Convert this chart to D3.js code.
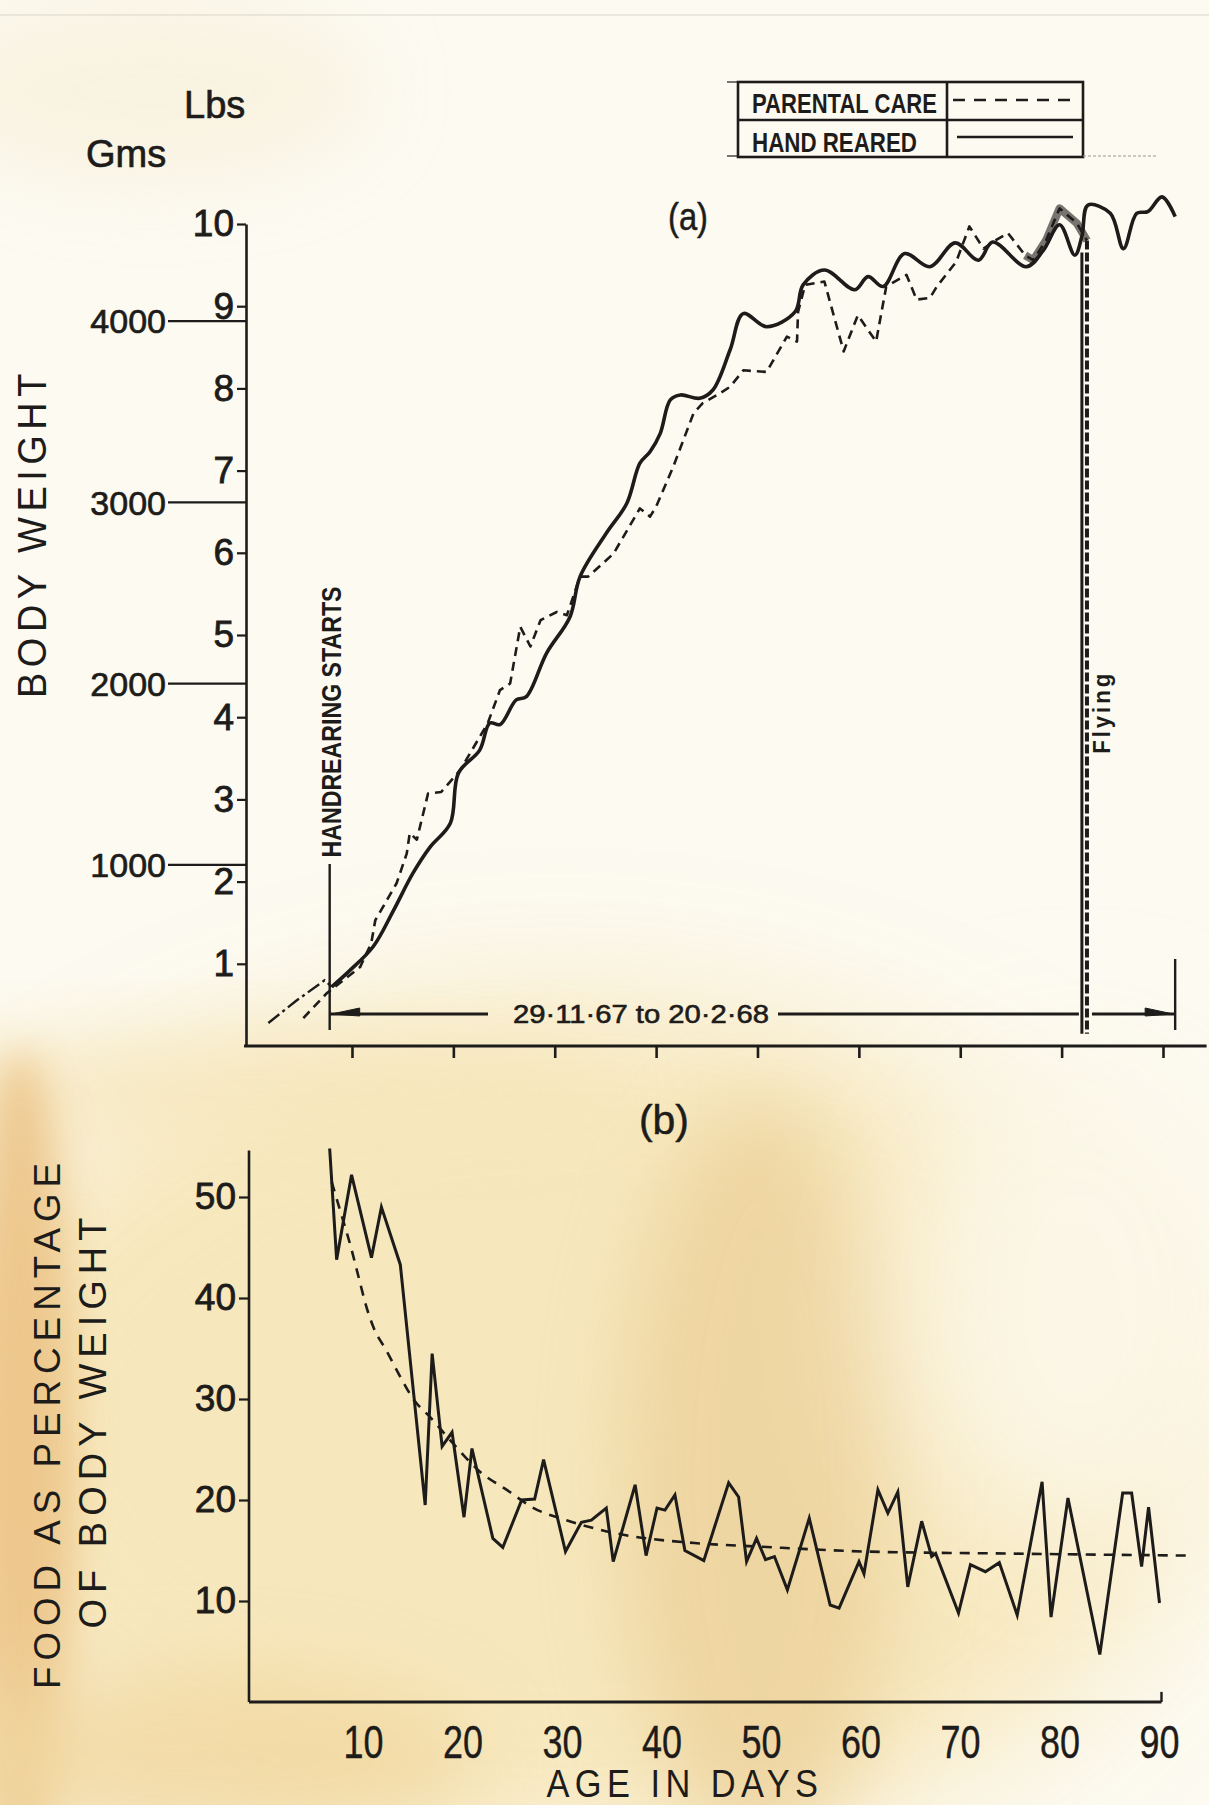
<!DOCTYPE html>
<html>
<head>
<meta charset="utf-8">
<script src="https://cdn.jsdelivr.net/npm/d3@7"></script>
<style>
  html, body { margin: 0; padding: 0; background: #fcfaf1; }
  svg { display: block; }
</style>
</head>
<body>
<svg id="chart" width="1209" height="1805"></svg>
<script>
// ---------- Panel (a): body weight (lbs) against age in days ----------
// hand-reared chick before hand-rearing began (estimated, dash-dot)
const handRearedEarly = [[1.75, 0.28], [4.5, 0.55], [7.3, 0.80], [8.0, 0.72]];
const handReared = [
  [8.0, 0.72], [9.8, 0.92], [12.1, 1.21], [14.1, 1.65], [16.0, 2.10], [17.7, 2.42],
  [19.7, 2.71], [20.5, 3.32], [22.6, 3.60], [23.6, 3.93], [24.6, 3.91], [26.2, 4.21],
  [27.2, 4.25], [29.2, 4.78], [31.5, 5.22], [32.5, 5.71], [35.1, 6.24], [37.1, 6.60],
  [38.4, 7.09], [39.4, 7.23], [40.4, 7.45], [41.4, 7.86], [42.4, 7.92], [44.3, 7.88],
  [45.6, 7.98], [47.3, 8.47], [48.6, 8.91], [50.9, 8.75], [53.7, 8.93], [54.5, 9.26],
  [56.6, 9.44], [59.6, 9.20], [60.9, 9.36], [62.4, 9.24], [64.5, 9.64], [67.0, 9.48],
  [69.5, 9.77], [71.8, 9.56], [73.2, 9.78], [76.5, 9.48], [78.2, 9.68], [79.8, 9.99],
  [81.3, 9.62], [82.0, 9.85], [82.6, 10.23], [84.8, 10.13], [86.1, 9.70], [87.4, 10.13],
  [88.5, 10.15], [89.9, 10.33], [91.2, 10.09]
];
const parentalCare = [
  [5.2, 0.34], [7.5, 0.64], [10.8, 0.96], [11.9, 1.25], [12.3, 1.53], [14.4, 1.98],
  [15.4, 2.34], [15.7, 2.59], [16.4, 2.51], [17.5, 3.07], [18.8, 3.09], [20.7, 3.36],
  [23.4, 3.93], [24.6, 4.33], [25.6, 4.41], [26.6, 5.10], [27.6, 4.86], [28.6, 5.18],
  [30.2, 5.28], [31.2, 5.24], [32.5, 5.71], [33.3, 5.71], [35.8, 5.99], [38.4, 6.54],
  [39.4, 6.44], [40.0, 6.56], [41.7, 7.05], [43.7, 7.70], [44.6, 7.82], [46.3, 7.94],
  [47.3, 8.02], [48.6, 8.22], [50.9, 8.20], [52.9, 8.63], [53.9, 8.57], [54.0, 8.93],
  [54.7, 9.26], [56.6, 9.30], [58.5, 8.45], [59.9, 8.89], [61.7, 8.57], [62.7, 9.24],
  [64.7, 9.38], [65.7, 9.08], [67.0, 9.10], [67.7, 9.24], [69.6, 9.54], [70.9, 9.97],
  [72.3, 9.70], [73.6, 9.81], [74.7, 9.89], [76.4, 9.62], [77.2, 9.56], [78.5, 9.81],
  [79.8, 10.19], [81.5, 10.01], [82.5, 9.80]
];
const weightTicksLbs = [1, 2, 3, 4, 5, 6, 7, 8, 9, 10];
const weightTicksGms = [1000, 2000, 3000, 4000];
const ageTicksA = [10, 20, 30, 40, 50, 60, 70, 80, 90];
const handRearingStartDay = 7.8;
const flyingDayHand = 82.0;
const flyingDayParent = 82.5;
const lastRecordDay = 91.2;
const dateSpanLabel = "29·11·67  to  20·2·68";

// ---------- Panel (b): food as % of body weight ----------
const foodHandReared = [
  [6.6, 54.8], [7.3, 43.8], [8.8, 52.2], [10.8, 44.0], [11.8, 49.0], [13.7, 43.3],
  [16.2, 19.5], [16.9, 34.5], [17.9, 25.3], [18.9, 26.7], [20.1, 18.3], [20.9, 25.1],
  [23.0, 16.2], [24.0, 15.3], [25.9, 20.0], [27.2, 20.1], [28.1, 24.0], [30.3, 14.9],
  [31.9, 17.8], [32.9, 18.0], [34.4, 19.2], [35.1, 13.9], [37.3, 21.5], [38.4, 14.5],
  [39.5, 19.2], [40.3, 19.0], [41.3, 20.5], [42.3, 15.0], [44.2, 14.0], [46.7, 21.7],
  [47.7, 20.3], [48.5, 13.9], [49.5, 16.2], [50.4, 14.1], [51.3, 14.4], [52.6, 11.1],
  [54.8, 18.2], [56.9, 9.6], [57.8, 9.3], [59.8, 13.9], [60.3, 12.7], [61.7, 21.0],
  [62.7, 18.7], [63.7, 20.8], [64.7, 11.4], [66.1, 17.9], [67.1, 14.4], [67.5, 14.7],
  [69.8, 8.8], [71.0, 13.6], [72.5, 12.9], [73.9, 13.8], [75.7, 8.6], [78.2, 21.8],
  [79.1, 8.4], [80.8, 20.2], [84.0, 4.7], [86.3, 20.7], [87.2, 20.7], [88.2, 13.4],
  [88.9, 19.3], [90.0, 9.8]
];
const foodTrend = [
  [6.8, 51.5], [7.7, 48.5], [8.8, 44.8], [9.5, 42.1], [10.3, 39.1], [11.0, 37.1],
  [12.3, 34.8], [13.7, 32.2], [15.0, 30.0], [16.7, 28.2], [19.0, 25.6], [21.7, 22.8],
  [24.4, 21.0], [27.1, 19.2], [30.4, 18.0], [35.4, 16.7], [43.8, 15.7], [49.5, 15.4],
  [60.3, 14.9], [74.6, 14.7], [92.7, 14.5]
];
const foodTicks = [10, 20, 30, 40, 50];
const ageTicksB = [10, 20, 30, 40, 50, 60, 70, 80, 90];

// ---------- setup ----------
const INK = "#1d1c1a";
const GRAMS_PER_LB = 453.592;
const svg = d3.select("#chart");
const W = 1209, H = 1805;

// aged paper: base colour plus soft stains
const defs = svg.append("defs");
[["blur20", 20], ["blur40", 40], ["blur70", 70]].forEach(([id, s]) => {
  defs.append("filter").attr("id", id).attr("x", "-50%").attr("y", "-50%")
    .attr("width", "200%").attr("height", "200%")
    .append("feGaussianBlur").attr("stdDeviation", s);
});
const paper = svg.append("g");
paper.append("rect").attr("width", W).attr("height", H).attr("fill", "#fcfaf1");
const stains = [
  { cx: 560, cy: 1430, rx: 640, ry: 430, fill: "#f6e4b3", op: 0.85, f: "blur70" },
  { cx: 250, cy: 1090, rx: 380, ry: 55, fill: "#f6e6bb", op: 0.8, f: "blur40" },
  { cx: 20, cy: 1470, rx: 55, ry: 420, fill: "#ecc487", op: 0.9, f: "blur20" },
  { cx: 760, cy: 1480, rx: 140, ry: 380, fill: "#edd29c", op: 0.8, f: "blur40" },
  { cx: 180, cy: 1760, rx: 300, ry: 90, fill: "#f1d79f", op: 0.8, f: "blur40" },
  { cx: 1080, cy: 1300, rx: 180, ry: 250, fill: "#fcf8ea", op: 0.9, f: "blur70" },
  { cx: 150, cy: 90, rx: 220, ry: 90, fill: "#f8f1dd", op: 0.8, f: "blur40" }
];
stains.forEach(s => paper.append("ellipse")
  .attr("cx", s.cx).attr("cy", s.cy).attr("rx", s.rx).attr("ry", s.ry)
  .attr("fill", s.fill).attr("opacity", s.op).attr("filter", `url(#${s.f})`));
paper.append("line").attr("x1", 0).attr("x2", W).attr("y1", 15).attr("y2", 15)
  .attr("stroke", "#d9d6cc").attr("stroke-width", 1.2);

// text helper: fixed-length labels so the condensed lettering fits
function label(g, txt, o) {
  const t = g.append("text").text(txt)
    .attr("x", o.x).attr("y", o.y)
    .attr("font-family", o.family || "'Liberation Sans', Arial, sans-serif")
    .attr("font-size", o.size)
    .attr("font-weight", o.weight || "normal")
    .attr("fill", INK)
    .attr("text-anchor", o.anchor || "start");
  if (o.len) t.attr("textLength", o.len).attr("lengthAdjust", "spacingAndGlyphs");
  if (o.ls) t.attr("letter-spacing", o.ls);
  if (o.rotate) t.attr("transform", `rotate(${o.rotate},${o.x},${o.y})`);
  if (o.thick) t.attr("stroke", INK).attr("stroke-width", o.thick);
  return t;
}

// ================= Panel (a) =================
const xA = d3.scaleLinear().domain([0, 90]).range([250.6, 1163]);
const yA = d3.scaleLinear().domain([0, 10]).range([1046, 224]);
const gA = svg.append("g");

// lbs axis
const yAxisA = gA.append("g").attr("transform", "translate(246,0)")
  .call(d3.axisLeft(yA).tickValues(weightTicksLbs).tickSize(9).tickPadding(3).tickSizeOuter(0));
yAxisA.select(".domain").attr("stroke", INK).attr("stroke-width", 2.6);
yAxisA.selectAll(".tick line").attr("stroke", INK).attr("stroke-width", 2.2);
yAxisA.selectAll(".tick text")
  .attr("font-family", "'Liberation Sans', Arial, sans-serif").attr("font-size", 37)
  .attr("fill", INK).attr("stroke", INK).attr("stroke-width", 0.8);

// grams scale drawn as long leaders onto the lbs axis
const gmsY = g => yA(g / GRAMS_PER_LB);
const gms = gA.append("g");
gms.selectAll("line").data(weightTicksGms).join("line")
  .attr("x1", 168).attr("x2", 246)
  .attr("y1", gmsY).attr("y2", gmsY)
  .attr("stroke", INK).attr("stroke-width", 2.2);
gms.selectAll("text").data(weightTicksGms).join("text")
  .attr("x", 166).attr("y", gmsY).attr("dy", "0.36em")
  .attr("text-anchor", "end")
  .attr("font-family", "'Liberation Sans', Arial, sans-serif").attr("font-size", 34)
  .attr("fill", INK).attr("stroke", INK).attr("stroke-width", 0.7)
  .text(d => d);

label(gA, "Lbs", { x: 184, y: 118, size: 38, thick: 0.7 });
label(gA, "Gms", { x: 86, y: 167, size: 38, thick: 0.7 });

// age axis (ticks only)
const xAxisA = gA.append("g").attr("transform", `translate(0,${yA(0)})`)
  .call(d3.axisBottom(xA).tickValues(ageTicksA).tickFormat("").tickSize(12).tickSizeOuter(0));
xAxisA.select(".domain").remove();
xAxisA.selectAll(".tick line").attr("stroke", INK).attr("stroke-width", 2.6);
gA.append("line").attr("x1", 244).attr("x2", xA(94.3))
  .attr("y1", yA(0)).attr("y2", yA(0)).attr("stroke", INK).attr("stroke-width", 3);

label(gA, "(a)", { x: 668, y: 230, size: 38, len: 40, thick: 0.5 });

// weight curves
const lineA = d3.line().x(d => xA(d[0])).y(d => yA(d[1]));
const smoothA = d3.line().x(d => xA(d[0])).y(d => yA(d[1])).curve(d3.curveCatmullRom.alpha(0.5));

// overlapping ink where both birds tracked closely before fledging
gA.append("path").datum(parentalCare.filter(d => d[0] >= 76.4))
  .attr("d", lineA).attr("fill", "none").attr("stroke", "#55534f")
  .attr("stroke-width", 8).attr("stroke-linejoin", "round").attr("opacity", 0.8);

gA.append("path").datum(handRearedEarly).attr("d", lineA)
  .attr("fill", "none").attr("stroke", INK).attr("stroke-width", 2.4)
  .attr("stroke-dasharray", "14,4,3,4");
gA.append("path").datum(parentalCare).attr("d", lineA)
  .attr("fill", "none").attr("stroke", INK).attr("stroke-width", 2.6)
  .attr("stroke-dasharray", "9,6").attr("stroke-linejoin", "round");
gA.append("path").datum(handReared).attr("d", smoothA)
  .attr("fill", "none").attr("stroke", INK).attr("stroke-width", 3.6)
  .attr("stroke-linejoin", "round");

// fledging ("Flying") drop lines
function weightOn(series, day) {
  const i = d3.bisector(d => d[0]).left(series, day);
  if (i <= 0) return series[0][1];
  if (i >= series.length) return series[series.length - 1][1];
  const a = series[i - 1], b = series[i];
  return a[1] + (b[1] - a[1]) * (day - a[0]) / (b[0] - a[0]);
}
gA.append("line")
  .attr("x1", xA(flyingDayHand)).attr("x2", xA(flyingDayHand))
  .attr("y1", yA(weightOn(handReared, flyingDayHand - 0.6))).attr("y2", yA(0.15))
  .attr("stroke", INK).attr("stroke-width", 3);
gA.append("line")
  .attr("x1", xA(flyingDayParent)).attr("x2", xA(flyingDayParent))
  .attr("y1", yA(weightOn(parentalCare, flyingDayParent))).attr("y2", yA(0.15))
  .attr("stroke", INK).attr("stroke-width", 4).attr("stroke-dasharray", "9,3");
label(gA, "Flying", { x: 1110, y: yA(4.06), size: 23, weight: "bold", len: 83,
  anchor: "middle", rotate: -90, ls: 3 });

// hand-rearing marker
const hx = xA(handRearingStartDay);
gA.append("line").attr("x1", hx).attr("x2", hx).attr("y1", 864).attr("y2", 1030)
  .attr("stroke", INK).attr("stroke-width", 2.4);
label(gA, "HANDREARING STARTS", { x: hx + 11, y: 722, size: 27, weight: "bold",
  len: 271, anchor: "middle", rotate: -90 });

// date span arrow across the hand-rearing period
const ay = 1014;
const arrow = gA.append("g").attr("stroke", INK).attr("stroke-width", 3).attr("fill", INK);
arrow.append("line").attr("x1", hx).attr("x2", 488).attr("y1", ay).attr("y2", ay);
arrow.append("line").attr("x1", 778).attr("x2", xA(flyingDayHand) - 3).attr("y1", ay).attr("y2", ay);
arrow.append("line").attr("x1", xA(flyingDayParent) + 5).attr("x2", xA(lastRecordDay)).attr("y1", ay).attr("y2", ay);
arrow.append("path").attr("stroke-width", 1)
  .attr("d", `M${hx + 2},${ay} L${hx + 30},${ay - 6} L${hx + 30},${ay + 2} Z`);
arrow.append("path").attr("stroke-width", 1)
  .attr("d", `M${xA(lastRecordDay) - 2},${ay} L${xA(lastRecordDay) - 30},${ay - 6} L${xA(lastRecordDay) - 30},${ay + 2} Z`);
arrow.append("line").attr("x1", xA(lastRecordDay)).attr("x2", xA(lastRecordDay))
  .attr("y1", 959).attr("y2", 1030).attr("stroke-width", 2.4);
label(gA, dateSpanLabel, { x: 641, y: 1023, size: 26, len: 256, anchor: "middle", thick: 0.6 });

// legend
const lg = gA.append("g").attr("stroke", INK).attr("fill", "none");
lg.append("rect").attr("x", 738).attr("y", 82).attr("width", 345).attr("height", 75)
  .attr("stroke-width", 2.6);
lg.append("line").attr("x1", 738).attr("x2", 1083).attr("y1", 120).attr("y2", 120).attr("stroke-width", 2.4);
lg.append("line").attr("x1", 947).attr("x2", 947).attr("y1", 82).attr("y2", 157).attr("stroke-width", 2.6);
lg.append("line").attr("x1", 953).attr("x2", 1077).attr("y1", 100).attr("y2", 100)
  .attr("stroke-width", 2.6).attr("stroke-dasharray", "12,9");
lg.append("line").attr("x1", 957).attr("x2", 1073).attr("y1", 137).attr("y2", 137).attr("stroke-width", 2.6);
lg.append("line").attr("x1", 727).attr("x2", 738).attr("y1", 82).attr("y2", 82).attr("stroke-width", 1.2);
lg.append("line").attr("x1", 727).attr("x2", 738).attr("y1", 156).attr("y2", 156).attr("stroke-width", 1.2);
lg.append("line").attr("x1", 1083).attr("x2", 1157).attr("y1", 156).attr("y2", 156)
  .attr("stroke", "#9a978f").attr("stroke-width", 1.2).attr("stroke-dasharray", "3,2");
label(gA, "PARENTAL CARE", { x: 752, y: 113, size: 28, weight: "bold", len: 185 });
label(gA, "HAND REARED", { x: 752, y: 152, size: 28, weight: "bold", len: 165 });

label(gA, "BODY WEIGHT", { x: 46, y: 533, size: 41, len: 330, anchor: "middle", rotate: -90, ls: 6 });

// ================= Panel (b) =================
const xB = d3.scaleLinear().domain([0, 90]).range([264, 1159.5]);
const yB = d3.scaleLinear().domain([0, 50]).range([1702, 1197]);
const gB = svg.append("g");

const yAxisB = gB.append("g").attr("transform", "translate(249,0)")
  .call(d3.axisLeft(yB).tickValues(foodTicks).tickSize(10).tickPadding(3).tickSizeOuter(0));
yAxisB.select(".domain").remove();
yAxisB.selectAll(".tick line").attr("stroke", INK).attr("stroke-width", 2.2);
yAxisB.selectAll(".tick text")
  .attr("font-family", "'Liberation Sans', Arial, sans-serif").attr("font-size", 37)
  .attr("fill", INK).attr("stroke", INK).attr("stroke-width", 0.8);
gB.append("line").attr("x1", 249).attr("x2", 249).attr("y1", yB(54.6)).attr("y2", yB(0))
  .attr("stroke", INK).attr("stroke-width", 2.6);
gB.append("line").attr("x1", 249).attr("x2", xB(90.2)).attr("y1", yB(0)).attr("y2", yB(0))
  .attr("stroke", INK).attr("stroke-width", 3);
gB.append("line").attr("x1", xB(90.2)).attr("x2", xB(90.2)).attr("y1", yB(0)).attr("y2", yB(1))
  .attr("stroke", INK).attr("stroke-width", 2.4);

gB.selectAll(".agelab").data(ageTicksB).join("text").attr("class", "agelab")
  .attr("x", d => xB(d)).attr("y", 1758)
  .attr("text-anchor", "middle")
  .attr("font-family", "'Liberation Sans', Arial, sans-serif").attr("font-size", 46)
  .attr("textLength", 40).attr("lengthAdjust", "spacingAndGlyphs")
  .attr("fill", INK).attr("stroke", INK).attr("stroke-width", 0.4)
  .text(d => d);

label(gB, "AGE IN DAYS", { x: 685, y: 1797, size: 38, len: 277, anchor: "middle", ls: 6 });
label(gB, "(b)", { x: 639, y: 1134, size: 40, len: 50, thick: 0.5 });
label(gB, "FOOD AS PERCENTAGE", { x: 60, y: 1423, size: 37, len: 532, anchor: "middle", rotate: -90, ls: 6 });
label(gB, "OF BODY WEIGHT", { x: 106, y: 1420, size: 38, len: 417, anchor: "middle", rotate: -90, ls: 6 });

const lineB = d3.line().x(d => xB(d[0])).y(d => yB(d[1]));
const smoothB = d3.line().x(d => xB(d[0])).y(d => yB(d[1])).curve(d3.curveMonotoneX);
gB.append("path").datum(foodTrend).attr("d", smoothB)
  .attr("fill", "none").attr("stroke", INK).attr("stroke-width", 2.6)
  .attr("stroke-dasharray", "10,8");
gB.append("path").datum(foodHandReared).attr("d", lineB)
  .attr("fill", "none").attr("stroke", INK).attr("stroke-width", 3)
  .attr("stroke-linejoin", "miter");
</script>
</body>
</html>
